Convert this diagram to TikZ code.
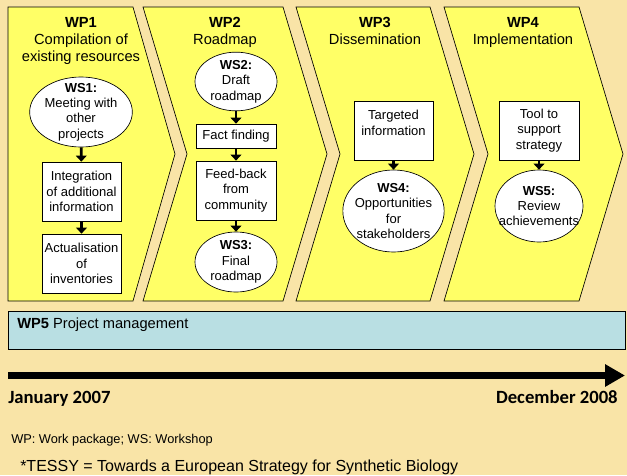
\documentclass[tikz,border=0pt]{standalone}
\usepackage{fontspec}
\setmainfont{Liberation Sans}
\newfontfamily\datefont{Carlito}
\usetikzlibrary{shapes.geometric}
\usetikzlibrary{arrows.meta}
\usetikzlibrary{calc}
\definecolor{bgtan}{RGB}{249,228,167}
\definecolor{wpyellow}{RGB}{255,255,102}
\definecolor{mgtblue}{RGB}{185,223,227}

\begin{document}
\begin{tikzpicture}[x=0.75pt, y=-0.75pt,
		chevron/.style={draw=black, line width=0.5pt, fill=wpyellow},
		wptitle/.style={anchor=north, inner sep=0pt, align=center, font=\fontsize{11}{12.9}\selectfont},
		task/.style={draw, line width=0.5pt, fill=white, align=center, inner sep=0pt, minimum width=59.5pt, font=\fontsize{9.75}{11.5}\selectfont},
		ws/.style={ellipse, draw, line width=0.5pt, fill=white, align=center, inner sep=0pt, font=\fontsize{9.75}{11.5}\selectfont},
		link/.style={-{Triangle[length=4.5pt,width=8pt]}, line width=2pt}]
		\useasboundingbox (0,0) rectangle (627,475);
		\fill[bgtan] (0,0) rectangle (627,475);
		% work packages
		\draw[chevron] (8,7) -- (133,7) -- (175,154) -- (133,301) -- (8,301) -- cycle;
		\draw[chevron] (143,7) -- (283,7) -- (327,154) -- (283,301) -- (143,301) -- (187,154) -- cycle;
		\draw[chevron] (296,7) -- (430,7) -- (474,154) -- (430,301) -- (296,301) -- (340,154) -- cycle;
		\draw[chevron] (444,7) -- (579,7) -- (623,154) -- (579,301) -- (444,301) -- (488,154) -- cycle;
		\node[wptitle] (wp1) at (81,17) {\textbf{WP1}\\Compilation of\\existing resources};
		\node[wptitle] (wp2) at (225,17) {\textbf{WP2}\\Roadmap};
		\node[wptitle] (wp3) at (375,17) {\textbf{WP3}\\Dissemination};
		\node[wptitle] (wp4) at (523,17) {\textbf{WP4}\\Implementation};
		% WP1
		\node[ws, minimum width=77pt, minimum height=52.5pt, inner xsep=-1pt, inner ysep=-3.5pt] (ws1) at (81,112) {\textbf{WS1:}\\Meeting with\\other\\projects};
		\node[task, minimum height=44.25pt] (integ) at (81.5,191.5) {Integration\\of additional\\information};
		\node[task, minimum height=44.25pt] (actual) at (81.5,263.5) {Actualisation\\of\\inventories};
		\draw[link] (ws1) -- (integ);
		\draw[link] (integ) -- (actual);
		% WP2
		\node[ws, minimum width=61.5pt, minimum height=44pt, inner ysep=-1.5pt] (ws2) at (236,81.5) {\textbf{WS2:}\\Draft\\roadmap};
		\node[task, minimum width=60pt, minimum height=18pt] (facts) at (236,136) {Fact finding};
		\node[task, minimum width=60pt, minimum height=44.25pt] (feedback) at (236,190.5) {Feed-back\\from\\community};
		\node[ws, minimum width=61.5pt, minimum height=45pt, inner ysep=-1.5pt] (ws3) at (236,262) {\textbf{WS3:}\\Final\\roadmap};
		\draw[link] (ws2) -- (facts);
		\draw[link] (facts) -- (feedback);
		\draw[link] (feedback) -- (ws3);
		% WP3
		\node[task, minimum height=44.25pt] (target) at (393.5,130.5) {Targeted\\information\\\mbox{}};
		\node[ws, minimum width=76pt, minimum height=61.5pt, inner xsep=-2.5pt, inner ysep=-1pt] (ws4) at (393.5,211) {\textbf{WS4:}\\Opportunities\\for\\stakeholders};
		\draw[link] (target) -- (ws4);
		% WP4
		\node[task, minimum width=60pt, minimum height=44.25pt] (tool) at (539,130.5) {Tool to\\support\\strategy};
		\node[ws, minimum width=66pt, minimum height=54pt, inner xsep=-7pt] (ws5) at (539,206) {\textbf{WS5:}\\Review\\achievements};
		\draw[link] (tool) -- (ws5);
		% WP5
		\node[draw, line width=0.5pt, fill=mgtblue, anchor=north west, minimum width=462.75pt, minimum height=28.5pt, inner sep=0pt] (wp5) at (8,311) {};
		\node[anchor=west, inner sep=0pt, font=\fontsize{11}{12.9}\selectfont] (wp5text) at ($(wp5.north west)+(9,14)$) {\textbf{WP5} Project management};
		% time line
		\coordinate (tstart) at (8,375.5);
		\coordinate (tend) at (625,375.5);
		\draw[line width=5.6pt, -{Triangle[length=15pt,width=16pt]}] (tstart) -- (tend);
		\node[anchor=base west, inner sep=0pt, font=\datefont\bfseries\fontsize{14}{16}\selectfont] (start) at (8,403) {January 2007};
		\node[anchor=base east, inner sep=0pt, font=\datefont\bfseries\fontsize{14}{16}\selectfont] (finish) at (618,403.5) {December 2008};
		% notes
		\node[anchor=base west, inner sep=0pt, font=\fontsize{9.6}{11}\selectfont] (abbrev) at (11,443) {WP: Work package; WS: Workshop};
		\node[anchor=base west, inner sep=0pt, font=\fontsize{12}{14}\selectfont] (tessy) at (20,471.5) {*TESSY = Towards a European Strategy for Synthetic Biology};
	\end{tikzpicture}
\end{document}
